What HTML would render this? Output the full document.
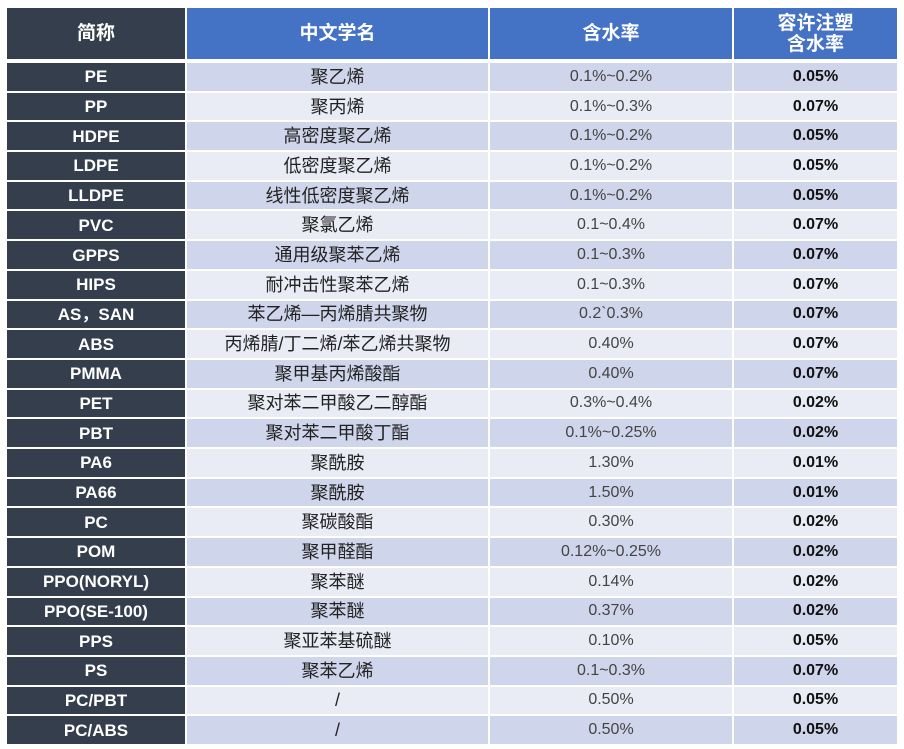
<!DOCTYPE html>
<html><head><meta charset="utf-8"><style>
body{margin:0;width:904px;height:749px;background:#fff;overflow:hidden}
.g{position:absolute;left:7px;top:8px;width:890px;height:736px;display:grid;
grid-template-columns:178px 301px 242px 163px;grid-template-rows:53px repeat(23,1fr);
column-gap:2px;row-gap:2px;font-family:"Liberation Sans","Noto Sans CJK SC",sans-serif}
.g div{display:flex;align-items:center;justify-content:center;text-align:center;white-space:nowrap;line-height:1}
.h{color:#fff;font-weight:bold;font-size:19px;background:#4472c4;margin-bottom:2px}
.g div.h{line-height:21px}
.h.d{background:#343e4c}
.a{background:#343e4c;color:#fff;font-weight:bold;font-size:17px}
.b{font-size:18px;color:#222}
.c{font-size:16px;color:#444}
.e{font-weight:bold;font-size:16px;color:#111}
.o{background:#cfd5ea}.v{background:#e9ebf5}
</style></head><body><div class="g" id="g">
<div class="h d">简称</div><div class="h">中文学名</div><div class="h">含水率</div><div class="h">容许注塑<br>含水率</div>
</div>
<script>
var d=[["PE","聚乙烯","0.1%~0.2%","0.05%"],["PP","聚丙烯","0.1%~0.3%","0.07%"],["HDPE","高密度聚乙烯","0.1%~0.2%","0.05%"],["LDPE","低密度聚乙烯","0.1%~0.2%","0.05%"],["LLDPE","线性低密度聚乙烯","0.1%~0.2%","0.05%"],["PVC","聚氯乙烯","0.1~0.4%","0.07%"],["GPPS","通用级聚苯乙烯","0.1~0.3%","0.07%"],["HIPS","耐冲击性聚苯乙烯","0.1~0.3%","0.07%"],["AS，SAN","苯乙烯—丙烯腈共聚物","0.2`0.3%","0.07%"],["ABS","丙烯腈/丁二烯/苯乙烯共聚物","0.40%","0.07%"],["PMMA","聚甲基丙烯酸酯","0.40%","0.07%"],["PET","聚对苯二甲酸乙二醇酯","0.3%~0.4%","0.02%"],["PBT","聚对苯二甲酸丁酯","0.1%~0.25%","0.02%"],["PA6","聚酰胺","1.30%","0.01%"],["PA66","聚酰胺","1.50%","0.01%"],["PC","聚碳酸酯","0.30%","0.02%"],["POM","聚甲醛酯","0.12%~0.25%","0.02%"],["PPO(NORYL)","聚苯醚","0.14%","0.02%"],["PPO(SE-100)","聚苯醚","0.37%","0.02%"],["PPS","聚亚苯基硫醚","0.10%","0.05%"],["PS","聚苯乙烯","0.1~0.3%","0.07%"],["PC/PBT","/","0.50%","0.05%"],["PC/ABS","/","0.50%","0.05%"]];
var h="";d.forEach(function(r,i){var z=i%2?"v":"o";h+='<div class="a">'+r[0]+'</div><div class="b '+z+'">'+r[1]+'</div><div class="c '+z+'">'+r[2]+'</div><div class="e '+z+'">'+r[3]+'</div>';});
document.getElementById("g").insertAdjacentHTML("beforeend",h);
</script></body></html>
